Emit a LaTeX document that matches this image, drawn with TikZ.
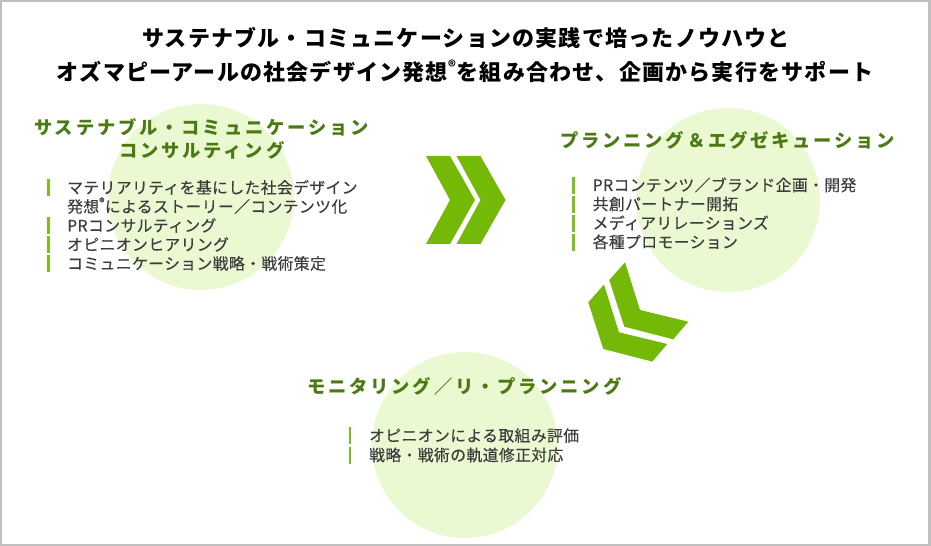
\documentclass[tikz,border=0pt]{standalone}
\usepackage{fontspec}
\newfontfamily\jp{Noto Sans CJK JP}
\definecolor{circ}{RGB}{234,249,210}
\definecolor{headc}{RGB}{76,122,18}
\definecolor{chev}{RGB}{116,184,8}
\definecolor{barc}{RGB}{124,192,30}
\definecolor{txt}{RGB}{60,60,60}
\definecolor{framec}{RGB}{191,191,191}
\tikzset{
  titletext/.style={inner sep=0pt, anchor=base, font={\jp\bfseries\fontsize{22bp}{26bp}\selectfont\addfontfeature{LetterSpace=5.5}}, text=black},
  headtext/.style={inner sep=0pt, anchor=base west, font={\jp\bfseries\fontsize{18.3bp}{21bp}\selectfont\addfontfeature{LetterSpace=15.5}}, text=headc},
  itemtext/.style={inner sep=0pt, anchor=base west, font={\jp\fontsize{15.8bp}{19bp}\selectfont\addfontfeature{LetterSpace=2.6,FakeBold=0.3}}, text=txt},
  bgcircle/.style={fill=circ, draw=none},
  chevshape/.style={fill=chev, draw=none},
  barshape/.style={fill=barc, draw=none}
}
\begin{document}
\begin{tikzpicture}[x=1bp,y=-1bp]
\useasboundingbox (0,0) rectangle (931,546);
\draw[framec, line width=2.4bp] (1.2,1.2) rectangle (929.4,544.8);

% circles
\fill[bgcircle] (201,197) circle (93);
\fill[bgcircle] (728,200) circle (92);
\fill[bgcircle] (465,445) circle (93);

% title
\node[titletext] (t1) at (466,46.4) {サステナブル・コミュニケーションの実践で培ったノウハウと};
\node[titletext] (t2) at (465,80.4) {オズマピーアールの社会デザイン発想\textsuperscript{®}を組み合わせ、企画から実行をサポート};

% right chevrons
\foreach \x in {426,456.5}{
  \fill[chevshape] (\x,156) -- (\x+24,156) -- (\x+49,200) -- (\x+24,244) -- (\x,244) -- (\x+24,200) -- cycle;
}
% down chevrons
\fill[chevshape] (625,262.3) -- (640,310) -- (688.3,321.7) -- (673.3,339.3) -- (624.3,326.7) -- (609.3,280) -- cycle;
\fill[chevshape] (604,284.6) -- (619,332.3) -- (667.3,344) -- (652.3,361.6) -- (603.3,349) -- (588.3,302.3) -- cycle;

% left group
\node[headtext] (h1a) at (34,134.5) {サステナブル・コミュニケーション};
\node[headtext] (h1b) at (119,158) {コンサルティング};
\node[itemtext] (l1) at (67,193.5) {マテリアリティを基にした社会デザイン};
\node[itemtext] (l1b) at (67,212.5) {発想\textsuperscript{®}によるストーリー／コンテンツ化};
\node[itemtext] (l2) at (67,231.5) {PRコンサルティング};
\node[itemtext] (l3) at (67,250.5) {オピニオンヒアリング};
\node[itemtext] (l4) at (67,269.5) {コミュニケーション戦略・戦術策定};
\foreach \c in {187.5,225.5,244.5,263.5}{
  \fill[barshape] (47,\c-8.5) rectangle (49.7,\c+8.5);
}

% right group
\node[headtext] (h2) at (560,147.5) {プランニング＆エグゼキューション};
\node[itemtext] (r1) at (592.5,191) {PRコンテンツ／ブランド企画・開発};
\node[itemtext] (r2) at (592.5,210) {共創パートナー開拓};
\node[itemtext] (r3) at (592.5,229) {メディアリレーションズ};
\node[itemtext] (r4) at (592.5,248) {各種プロモーション};
\foreach \c in {185,204,223,242}{
  \fill[barshape] (572.2,\c-8) rectangle (574.9,\c+9);
}

% bottom group
\node[headtext] (h3) at (307,393.5) {モニタリング／リ・プランニング};
\node[itemtext] (b1) at (369,441.5) {オピニオンによる取組み評価};
\node[itemtext] (b2) at (369,461) {戦略・戦術の軌道修正対応};
\foreach \c in {435.5,455}{
  \fill[barshape] (348.7,\c-8.5) rectangle (351.4,\c+8.5);
}
\end{tikzpicture}
\end{document}
